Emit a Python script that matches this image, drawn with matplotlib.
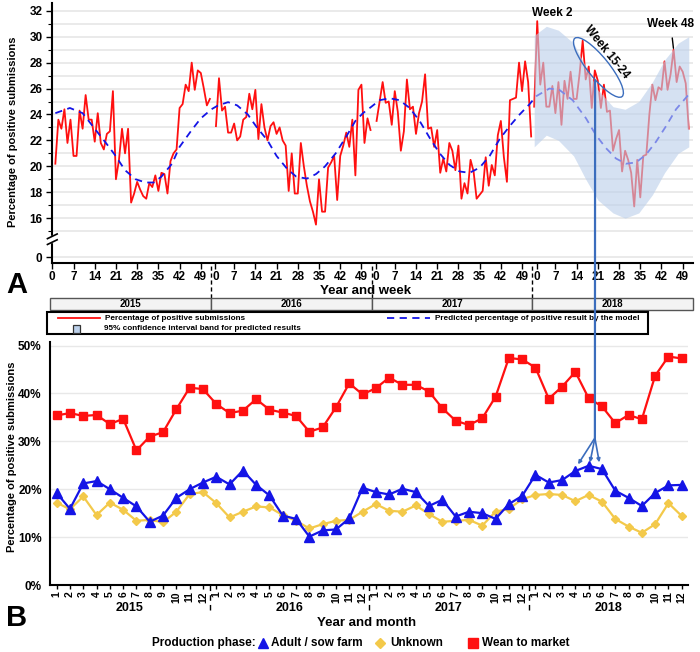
import matplotlib
matplotlib.use("Agg")
import matplotlib.pyplot as plt
import matplotlib.transforms as mtransforms
from matplotlib.patches import Rectangle, Ellipse, ConnectionPatch
from matplotlib.lines import Line2D

plt.rcParams.update({
    "font.family": ["Liberation Sans", "DejaVu Sans"],
    "font.weight": "bold",
    "axes.linewidth": 1.5,
})

# ---------------- data: panel A (weekly) ----------------
YEARS = ["2015", "2016", "2017", "2018"]
SLOT = 53  # week positions per year on the axis
pos_2015 = [20.2, 23.6, 22.9, 24.4, 21.8, 23.6, 20.8, 20.8, 24.3, 22.9, 25.5, 23.6, 23.6,
            21.9, 24.1, 21.8, 21.3, 22.5, 22.7, 25.8, 19.0, 20.5, 22.9, 21.0, 22.9,
            17.2, 17.9, 18.8, 18.2, 17.7, 17.5, 18.7, 18.4, 19.3, 18.1, 19.5, 19.4, 17.9,
            20.4, 21.0, 21.3, 24.5, 24.8, 26.3, 25.8, 28.0, 25.9, 27.4, 27.2, 26.0, 24.7, 25.2]
pos_2016 = [23.1, 26.8, 24.3, 24.6, 22.6, 22.6, 23.3, 22.0, 22.3, 23.6, 23.8, 25.6, 24.4,
            25.9, 22.1, 24.8, 23.0, 22.0, 23.1, 23.4, 22.5, 23.0, 22.0, 21.6, 18.1,
            21.0, 17.9, 17.9, 21.8, 20.0, 18.5, 17.3, 16.5, 15.5, 19.0, 16.5, 16.5, 19.9,
            20.3, 20.8, 17.4, 20.8, 21.6, 22.6, 21.5, 23.6, 19.3, 25.9, 26.3, 21.8, 23.7, 22.8]
pos_2017 = [23.5, 25.0, 26.5, 24.9, 25.0, 23.2, 25.8, 24.2, 21.2, 22.7, 26.7, 24.4, 24.6,
            22.5, 24.1, 25.0, 27.1, 22.9, 23.0, 21.5, 22.8, 19.5, 20.6, 19.6, 21.8, 21.2,
            19.7, 21.6, 17.5, 18.7, 17.9, 20.5, 19.6, 17.5, 17.8, 18.1, 20.7, 18.5, 20.1,
            19.3, 22.4, 23.5, 20.7, 18.8, 25.1, 25.2, 25.3, 28.0, 25.8, 28.1, 26.5, 22.3]
pos_2018 = [24.6, 31.2, 26.3, 28.0, 24.6, 24.6, 26.2, 24.1, 26.5, 23.2, 26.6, 25.2, 27.3,
            25.2, 25.2, 27.2, 29.7, 26.7, 27.7, 24.5, 27.4, 26.6, 24.5, 26.3, 24.2, 24.3, 21.2,
            22.1, 22.8, 19.6, 21.2, 20.5, 19.5, 16.9, 20.5, 17.6, 20.8, 20.9, 24.0, 26.3,
            25.1, 26.1, 25.9, 28.1, 25.9, 27.1, 29.0, 26.5, 27.7, 27.3, 26.4, 22.9]
first_week = [1, 1, 1, 0]

# model prediction, read at weeks counted from the start of 2015 (53 positions per year)
pred_week = [1, 5.8, 10, 14, 17.7, 20.6, 24, 27.5, 30.8, 33.5, 36, 39.5, 42, 46, 49, 52.5,
             54.7, 58, 61, 64.5, 67.5, 71, 74, 77.5, 80.5, 84, 87, 90, 93.5, 97, 100, 102.5, 105.3,
             108, 111.3, 114.6, 117.9, 121.2, 124.5, 127.8, 131.1, 134.4, 137.7, 141, 144.3,
             147.6, 150.9, 154.2, 157.5,
             159.6, 164, 167.3, 171.7, 176.1, 179.4, 182.7, 186, 189.3, 192.6, 195.9, 199.2,
             202.5, 205.8, 210.2]
pred_val = [24.1, 24.5, 24.1, 22.9, 21.8, 20.9, 19.7, 19.0, 18.75, 18.75, 19.2, 20.2, 21.5, 22.8, 23.7, 24.4,
            24.7, 24.95, 24.7, 24.0, 23.0, 22.0, 20.8, 19.8, 19.2, 19.05, 19.4, 20.0, 21.0, 22.3, 23.5, 24.1, 24.6,
            25.1, 25.25, 25.1, 24.5, 23.5, 22.2, 21.0, 20.1, 19.6, 19.5, 19.9, 20.8, 22.1, 23.1, 24.0, 24.8,
            25.4, 26.0, 25.9, 25.1, 23.7, 22.4, 21.4, 20.6, 20.2, 20.3, 20.9, 21.9, 23.1, 24.4, 25.6]

# 95% CI band, 2018 weeks
ci_week = [0, 4, 8, 13, 17, 21, 26, 30, 34.5, 39, 43, 47.5, 51]
ci_upper = [30.1, 30.8, 30.5, 29.5, 27.7, 25.9, 24.6, 24.4, 25.0, 26.5, 28.2, 29.5, 30.0]
ci_lower = [21.5, 22.4, 22.0, 20.8, 19.0, 17.4, 16.4, 16.0, 16.4, 17.8, 19.5, 21.0, 21.5]

# ---------------- data: panel B (monthly, %) ----------------
months = [str(m) for m in range(1, 13)]
wean = [35.4, 35.9, 35.3, 35.5, 33.6, 34.7, 28.1, 31.0, 31.9, 36.7, 41.2, 40.9,
        37.8, 35.9, 36.4, 38.8, 36.6, 36.0, 35.3, 32.0, 32.9, 37.1, 42.1, 39.8,
        41.1, 43.3, 41.8, 41.8, 40.4, 36.9, 34.3, 33.4, 34.8, 39.3, 47.4, 47.1,
        45.4, 38.9, 41.4, 44.5, 39.0, 37.3, 33.8, 35.5, 34.6, 43.7, 47.7, 47.3]
adult = [19.2, 15.9, 21.2, 21.7, 20.0, 18.2, 16.4, 13.2, 14.5, 18.2, 20.0, 21.4,
         22.6, 21.0, 23.9, 20.9, 18.7, 14.5, 13.8, 10.1, 11.4, 11.6, 13.9, 20.3,
         19.4, 18.9, 20.1, 19.4, 16.5, 17.8, 14.3, 15.3, 15.0, 13.8, 16.9, 18.6,
         23.0, 21.4, 21.9, 23.8, 24.9, 24.2, 19.7, 18.2, 16.5, 19.2, 20.8, 20.9]
unknown = [17.2, 15.8, 18.5, 14.6, 17.2, 15.7, 13.4, 13.6, 13.1, 15.3, 19.0, 19.4,
           17.1, 14.1, 15.3, 16.4, 16.2, 14.6, 13.4, 11.8, 12.7, 13.4, 13.6, 15.3,
           16.9, 15.5, 15.3, 16.6, 14.8, 13.2, 13.4, 13.6, 12.4, 15.3, 15.9, 17.9,
           18.8, 19.0, 18.8, 17.5, 18.8, 17.4, 13.8, 12.2, 10.9, 12.7, 17.1, 14.4]

RED = "#ff1010"
BLUE = "#1414e6"
YEL = "#f3c94a"
BAND = "#bcd0ea"
LINK = "#3b6dbd"

W, H = 700, 652
fx = lambda px: px / W
fy = lambda py: 1 - py / H

fig = plt.figure(figsize=(7, 6.52), dpi=100)

# ================= panel A =================
axA = fig.add_axes([fx(52.3), fy(263), fx(692.7) - fx(52.3), fy(3) - fy(263)])
axA.set_xlim(0, 211.3)
axA.set_ylim(12.54, 32.6)
for gy in [13] + list(range(15, 33)):
    axA.axhline(gy, color="#e4e4e4", lw=1.1, zorder=0)

series = [pos_2015, pos_2016, pos_2017, pos_2018]
for i, vals in enumerate(series):
    xs = [i * SLOT + first_week[i] + k for k in range(len(vals))]
    axA.plot(xs, vals, color=RED, lw=1.3, zorder=2)
axA.plot(pred_week, pred_val, color=BLUE, lw=1.3, ls=(0, (4, 3)), zorder=3)
axA.fill_between([3 * SLOT + w for w in ci_week], ci_lower, ci_upper,
                 color=BAND, alpha=0.62, lw=0, zorder=4)

xt, xl = [], []
for i in range(4):
    for w in range(0, 50, 7):
        xt.append(i * SLOT + w + (0.8 if i and w == 0 else 0))
        xl.append(str(w))
axA.set_xticks(xt, xl)
axA.set_yticks([13] + list(range(16, 33, 2)), ["0"] + [str(v) for v in range(16, 33, 2)])
axA.set_yticks(list(range(15, 32, 2)), minor=True)
axA.tick_params(axis="x", labelsize=8.5, length=4, width=1.0, direction="out", pad=2)
axA.tick_params(axis="y", labelsize=8.5, length=4, width=1.0, direction="out", pad=3)
axA.tick_params(axis="y", which="minor", length=3, width=0.8)
for s in ("top", "right"):
    axA.spines[s].set_visible(False)

# axis break marks
axA.add_patch(Rectangle((-1.2, 14.15), 2.4, 0.45, transform=axA.transData,
                        color="white", clip_on=False, zorder=6))
for yb in (14.15, 14.6):
    axA.plot([-1.6, 1.6], [yb - 0.18, yb + 0.18], color="black", lw=1.2,
             clip_on=False, zorder=7)

# year dividers under the axis
for i in range(1, 4):
    axA.vlines(i * SLOT - 0.6, 12.54 - 35 / 13, 12.54, colors="black", lw=1.0,
               linestyles=(0, (3, 2)), clip_on=False)

# annotations
axA.annotate("Week 2", xy=(3 * SLOT + 1, pos_2018[1]), xytext=(15, 8),
             textcoords="offset pixels", ha="center", va="center", fontsize=8.5)
axA.annotate("Week 48", xy=(3 * SLOT + 46, pos_2018[46]), xytext=(-3, 26),
             textcoords="offset pixels", ha="center", va="center", fontsize=8.5,
             arrowprops=dict(arrowstyle="-", color="black", lw=1.0, shrinkA=4, shrinkB=1))
etrans = fig.dpi_scale_trans + mtransforms.ScaledTranslation(180.2, 27.63, axA.transData)
axA.add_patch(Ellipse((0, 0), 0.75, 0.21, angle=-51, transform=etrans,
                      fill=False, ec=LINK, lw=1.0, zorder=8))
axA.text(183.0, 28.8, "Week 15-24", rotation=-51, ha="center", va="center",
         fontsize=8.5, zorder=8)

fig.text(fx(13), fy(132), "Percentage of positive submissions", rotation=90,
         ha="center", va="center", fontsize=8)
fig.text(fx(366), fy(291), "Year and week", ha="center", va="center", fontsize=9.5)
fig.text(fx(17), fy(285), "A", ha="center", va="center", fontsize=21)

# year boxes
axY = fig.add_axes([fx(52.3), fy(310), fx(692.7) - fx(52.3), fy(298) - fy(310)])
axY.set_xlim(0, 211.3)
axY.set_ylim(0, 1)
axY.axis("off")
for i, yr in enumerate(YEARS):
    x0 = max(i * SLOT - 0.6, -0.6)
    x1 = min((i + 1) * SLOT - 0.6, 211.3)
    axY.add_patch(Rectangle((x0, 0), x1 - x0, 1, fc="#f3f3f3", ec="#555555", lw=1.0,
                            clip_on=False))
    axY.text((x0 + x1) / 2, 0.5, yr, ha="center", va="center", fontsize=7)

# legend of panel A
fig.add_artist(Rectangle((fx(47), fy(334)), fx(648) - fx(47), fy(312) - fy(334),
                         transform=fig.transFigure, fill=False, ec="black", lw=1.5))
fig.add_artist(Line2D([fx(58), fx(100)], [fy(318), fy(318)], color=RED, lw=1.3,
                      transform=fig.transFigure))
fig.text(fx(105), fy(318), "Percentage of positive submissions", va="center", fontsize=5.9)
fig.add_artist(Rectangle((fx(72.5), fy(332.5)), fx(7.5), fy(325) - fy(332.5),
                         transform=fig.transFigure, fc=BAND, ec="#333333", lw=0.9))
fig.text(fx(104), fy(329), "95% confidence interval band for predicted results",
         va="center", fontsize=5.9)
fig.add_artist(Line2D([fx(387), fx(430)], [fy(318), fy(318)], color=BLUE, lw=1.3,
                      ls=(0, (4, 3)), transform=fig.transFigure))
fig.text(fx(435), fy(318), "Predicted percentage of positive result by the model",
         va="center", fontsize=5.9)

# ================= panel B =================
axB = fig.add_axes([fx(50), fy(585), fx(688) - fx(50), fy(341.7) - fy(585)])
axB.set_xlim(-0.5, 47.47)
axB.set_ylim(0, 50.8)
idx = list(range(48))
for gy in (10, 20, 30, 40, 50):
    axB.axhline(gy, color="#e8e8e8", lw=1.0, zorder=0)
axB.plot(idx, wean, color=RED, lw=1.6, marker="s", ms=5.5, zorder=3)
axB.plot(idx, adult, color=BLUE, lw=1.6, marker="^", ms=6.5, zorder=3)
axB.plot(idx, unknown, color=YEL, lw=1.6, marker="D", ms=4.5, zorder=2)

axB.set_xticks(idx, months * 4, rotation=90)
axB.set_yticks([0, 10, 20, 30, 40, 50], ["0%", "10%", "20%", "30%", "40%", "50%"])
axB.tick_params(axis="x", labelsize=7.5, length=3, width=1.0, pad=1.5)
axB.tick_params(axis="y", labelsize=8.5, length=0, pad=6)
for s in ("top", "right"):
    axB.spines[s].set_visible(False)

bt = mtransforms.blended_transform_factory(axB.transData, axB.transAxes)
for i, yr in enumerate(YEARS):
    axB.text(i * 12 + 5.5, -0.095, yr, transform=bt, ha="center", va="center", fontsize=9)
for i in range(1, 4):
    axB.plot([i * 12 - 0.5] * 2, [0, -0.11], transform=bt, color="black", lw=1.0,
             ls=(0, (4, 3)), clip_on=False)
fig.text(fx(367), fy(623), "Year and month", ha="center", va="center", fontsize=9.5)
fig.text(fx(12), fy(457), "Percentage of positive submissions", rotation=90,
         ha="center", va="center", fontsize=8)
fig.text(fx(17), fy(618), "B", ha="center", va="center", fontsize=21)

# legend of panel B
fig.text(fx(152), fy(643), "Production phase:", va="center", fontsize=8.5)
for mx, mk, col, ms, tx, label in [(263, "^", BLUE, 7, 271, "Adult / sow farm"),
                                   (380, "D", YEL, 5, 390, "Unknown"),
                                   (473, "s", RED, 7, 482, "Wean to market")]:
    fig.add_artist(Line2D([fx(mx)], [fy(643)], marker=mk, color=col, ms=ms, lw=0,
                          transform=fig.transFigure))
    fig.text(fx(tx), fy(643), label, va="center", fontsize=8.5)

# link between panels
con = ConnectionPatch(xyA=(179.1, 26.6), coordsA=axA.transData,
                      xyB=(40.47, 30.7), coordsB=axB.transData,
                      color=LINK, lw=1.6, zorder=10)
fig.add_artist(con)
for tx_, ty_ in [(39.2, 25.2), (40.1, 25.6), (40.8, 25.6)]:
    axB.annotate("", xy=(tx_, ty_), xytext=(40.47, 30.7),
                 arrowprops=dict(arrowstyle="-|>", color=LINK, lw=1.2,
                                 mutation_scale=5, shrinkA=0, shrinkB=0), zorder=10)

fig.savefig("out.png", dpi=100)
